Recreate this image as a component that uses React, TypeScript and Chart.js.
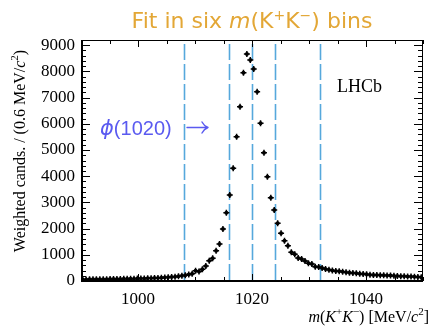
import React, { useEffect, useRef } from 'react';
import { Chart, registerables } from 'chart.js';

Chart.register(...registerables);

// Histogram definition (m(K+K-) in MeV/c^2)
const binStart = 990;
const binWidth = 0.6;
const counts: number[] = [
  60, 62, 63, 65, 66, 68, 70, 71, 73, 75,
  77, 80, 82, 84, 87, 89, 92, 95, 99, 103,
  107, 112, 118, 124, 131, 139, 149, 165, 182, 200,
  222, 250, 280, 390, 360, 447, 573, 775, 866, 1156,
  1412, 1985, 2607, 3282, 4301, 5508, 6653, 7950, 8664, 8435,
  8091, 7225, 6019, 4897, 3981, 3179, 2710, 2202, 1821, 1535,
  1347, 1095, 1019, 878, 840, 763, 676, 649, 546, 534,
  496, 460, 430, 405, 385, 372, 350, 335, 318, 305,
  292, 280, 265, 255, 243, 232, 228, 222, 218, 212,
  206, 200, 192, 186, 179, 172, 168, 162, 150, 140,
];
const binBoundaries: number[] = [1008, 1016, 1020, 1024, 1032];
const xMin = 990;
const xMax = 1050;
const yMin = 0;
const yMax = 9200;
const xTickValues: number[] = [990, 995, 1000, 1005, 1010, 1015, 1020, 1025, 1030, 1035, 1040, 1045, 1050];
const xLabelValues: number[] = [1000, 1020, 1040];
const yMajorValues: number[] = [0, 1000, 2000, 3000, 4000, 5000, 6000, 7000, 8000, 9000];
const yMinorStep = 200;

const points = counts.map((c, i) => ({ x: binStart + binWidth * (i + 0.5), y: c }));

type Run = { t: string; font: string; dy?: number };

function drawRuns(ctx: CanvasRenderingContext2D, runs: Run[], x: number, y: number, align: 'left' | 'center' | 'right', color: string) {
  let total = 0;
  const widths = runs.map((r) => {
    ctx.font = r.font;
    const w = ctx.measureText(r.t).width;
    total += w;
    return w;
  });
  let cx = align === 'left' ? x : align === 'center' ? x - total / 2 : x - total;
  ctx.fillStyle = color;
  ctx.textAlign = 'left';
  ctx.textBaseline = 'alphabetic';
  runs.forEach((r, i) => {
    ctx.font = r.font;
    ctx.fillText(r.t, cx, y + (r.dy || 0));
    cx += widths[i];
  });
}

const SERIF = '"Liberation Serif", "Times New Roman", serif';
const SANS = '"DejaVu Sans", sans-serif';

const decorPlugin = {
  id: 'decor',
  beforeDatasetsDraw(chart: any) {
    const ctx: CanvasRenderingContext2D = chart.ctx;
    const { top, bottom } = chart.chartArea;
    const xs = chart.scales.x;
    ctx.save();
    ctx.strokeStyle = '#56a8dc';
    ctx.lineWidth = 1.6;
    ctx.setLineDash([16, 4]);
    ctx.lineDashOffset = -4;
    binBoundaries.forEach((b) => {
      const px = Math.round(xs.getPixelForValue(b)) + 0.5;
      ctx.beginPath();
      ctx.moveTo(px, top);
      ctx.lineTo(px, bottom);
      ctx.stroke();
    });
    ctx.restore();
  },
  afterDraw(chart: any) {
    const ctx: CanvasRenderingContext2D = chart.ctx;
    const { left, right, top, bottom } = chart.chartArea;
    const xs = chart.scales.x;
    const ys = chart.scales.y;
    ctx.save();
    ctx.strokeStyle = '#000';
    // frame
    ctx.lineWidth = 1;
    ctx.beginPath();
    ctx.moveTo(left, top + 0.5);
    ctx.lineTo(right, top + 0.5);
    ctx.moveTo(right - 0.5, top);
    ctx.lineTo(right - 0.5, bottom);
    ctx.stroke();
    ctx.lineWidth = 2;
    ctx.beginPath();
    ctx.moveTo(left, bottom);
    ctx.lineTo(right, bottom);
    ctx.moveTo(left + 1, top);
    ctx.lineTo(left + 1, bottom + 1);
    ctx.stroke();
    // ticks
    ctx.lineWidth = 1;
    ctx.beginPath();
    xTickValues.forEach((v) => {
      const px = Math.round(xs.getPixelForValue(v)) + 0.5;
      const len = xLabelValues.includes(v) ? 7 : 4;
      ctx.moveTo(px, bottom);
      ctx.lineTo(px, bottom - len);
      ctx.moveTo(px, top);
      ctx.lineTo(px, top + len);
    });
    for (let v = yMin; v <= 9000; v += yMinorStep) {
      const py = Math.round(ys.getPixelForValue(v)) + 0.5;
      const len = v % 1000 === 0 ? 9 : 5;
      ctx.moveTo(left, py);
      ctx.lineTo(left + len, py);
      ctx.moveTo(right, py);
      ctx.lineTo(right - len, py);
    }
    ctx.stroke();

    // title
    const tf = `22px ${SANS}`;
    const tfi = `italic 22px ${SANS}`;
    const tfs = `14px ${SANS}`;
    const gold = '#e3a736';
    drawRuns(ctx, [
      { t: 'Fit in six ', font: tf },
      { t: 'm', font: tfi },
      { t: '(K', font: tf },
      { t: '+', font: tfs, dy: -8 },
      { t: 'K', font: tf },
      { t: '\u2212', font: tfs, dy: -8 },
      { t: ') bins', font: tf },
    ], 252, 28, 'center', gold);

    // y-axis title
    const af = `16px ${SERIF}`;
    const afi = `italic 16px ${SERIF}`;
    const afs = `11px ${SERIF}`;
    ctx.save();
    ctx.translate(25, 151);
    ctx.rotate(-Math.PI / 2);
    drawRuns(ctx, [
      { t: 'Weighted cands. / (0.6 MeV/', font: af },
      { t: 'c', font: afi },
      { t: '2', font: afs, dy: -7 },
      { t: ')', font: af },
    ], 0, 0, 'center', '#000');
    ctx.restore();

    // x-axis title
    drawRuns(ctx, [
      { t: 'm', font: afi },
      { t: '(', font: af },
      { t: 'K', font: afi },
      { t: '+', font: afs, dy: -7 },
      { t: 'K', font: afi },
      { t: '\u2212', font: afs, dy: -7 },
      { t: ') [MeV/', font: af },
      { t: 'c', font: afi },
      { t: '2', font: afs, dy: -7 },
      { t: ']', font: af },
    ], 429, 322, 'right', '#000');

    // LHCb
    drawRuns(ctx, [{ t: 'LHCb', font: `18px ${SERIF}` }], 337, 92, 'left', '#000');

    // phi label
    const blue = '#5a5af0';
    drawRuns(ctx, [
      { t: '\u03d5', font: `italic 21px ${SANS}` },
      { t: '(1020)', font: `20px "Liberation Sans", sans-serif` },
    ], 100, 135, 'left', blue);
    // arrow symbol
    ctx.strokeStyle = blue;
    ctx.lineWidth = 1.4;
    ctx.lineCap = 'round';
    ctx.beginPath();
    ctx.moveTo(187, 127.5);
    ctx.lineTo(208, 127.5);
    ctx.moveTo(202, 122);
    ctx.quadraticCurveTo(204, 126, 208, 127.5);
    ctx.moveTo(202, 133);
    ctx.quadraticCurveTo(204, 129, 208, 127.5);
    ctx.stroke();
    ctx.restore();
  },
};

export default function App() {
  const ref = useRef<HTMLCanvasElement>(null);
  useEffect(() => {
    document.body.style.margin = '0';
    const canvas = ref.current!;
    const chart = new Chart(canvas, {
      type: 'scatter',
      data: {
        datasets: [
          {
            data: points,
            pointStyle: 'circle',
            pointRadius: 2,
            backgroundColor: '#000',
            borderWidth: 0,
          },
          {
            data: points,
            pointStyle: 'cross',
            pointRadius: 3,
            borderColor: '#000',
            borderWidth: 1.5,
          },
        ],
      },
      options: {
        animation: false,
        responsive: false,
        devicePixelRatio: 1,
        layout: { padding: { top: 40, right: 2, left: 0, bottom: 0 } },
        plugins: {
          legend: { display: false },
          tooltip: { enabled: false },
          title: { display: false },
        },
        scales: {
          x: {
            type: 'linear',
            min: xMin,
            max: xMax,
            grid: { display: false, drawTicks: false },
            border: { display: false },
            afterBuildTicks: (s: any) => {
              s.ticks = xTickValues.map((v) => ({ value: v }));
            },
            afterFit: (s: any) => {
              s.height = 45;
            },
            ticks: {
              autoSkip: false,
              maxRotation: 0,
              minRotation: 0,
              padding: 8,
              color: '#000',
              font: { family: SERIF, size: 17 },
              callback: (v: any) => (xLabelValues.includes(Number(v)) ? String(v) : ''),
            },
          },
          y: {
            type: 'linear',
            min: yMin,
            max: yMax,
            grid: { display: false, drawTicks: false },
            border: { display: false },
            afterBuildTicks: (s: any) => {
              s.ticks = yMajorValues.map((v) => ({ value: v }));
            },
            afterFit: (s: any) => {
              s.width = 81;
            },
            ticks: {
              padding: 6,
              color: '#000',
              font: { family: SERIF, size: 17 },
              callback: (v: any) => String(v),
            },
          },
        },
      },
      plugins: [decorPlugin],
    } as any);
    return () => chart.destroy();
  }, []);
  return <canvas ref={ref} width={431} height={326} style={{ display: 'block', width: 431, height: 326 }} />;
}
